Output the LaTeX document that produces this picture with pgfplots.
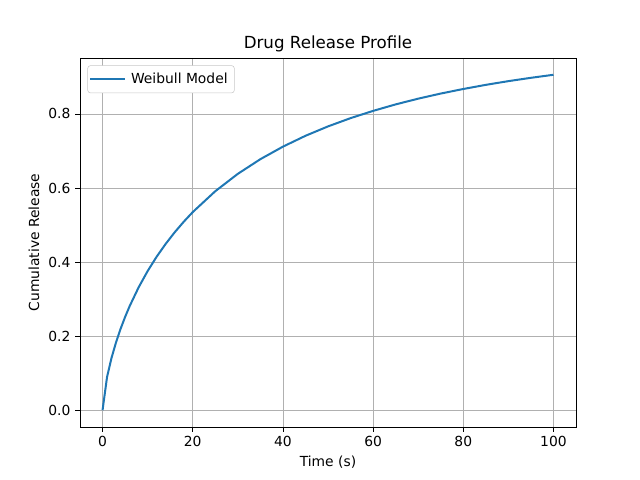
\documentclass[border=0pt]{standalone}
\usepackage{fontspec}
\setmainfont{DejaVu Sans}
\usepackage{pgfplots}
\pgfplotsset{compat=1.18}
\usetikzlibrary{calc}
\definecolor{mplblue}{HTML}{1F77B4}
\definecolor{mplgrid}{HTML}{B0B0B0}

\begin{document}
\begin{tikzpicture}
\begin{axis}[
    name=ax,
    scale only axis,
    width=372pt, height=276.75pt,
    xmin=-5, xmax=105,
    ymin=-0.0453, ymax=0.951,
    xtick={0,20,40,60,80,100},
    ytick={0,0.2,0.4,0.6,0.8},
    yticklabel style={/pgf/number format/.cd,fixed,fixed zerofill,precision=1},
    /pgf/number format/assume math mode=true,
    tick label style={font=\fontsize{10.4}{12}\selectfont},
    label style={font=\fontsize{10.4}{12}\selectfont},
    title style={font=\fontsize{12.5}{14}\selectfont, yshift=-5pt},
    title={Drug Release Profile},
    xlabel={Time (s)},
    ylabel={Cumulative Release},
    grid=major,
    major grid style={mplgrid, line width=0.6pt},
    tick align=outside,
    major tick length=3.65pt,
    tick style={black, line width=0.6pt},
    xtick pos=bottom, ytick pos=left,
    axis line style={line width=0.6pt},
    legend style={font=\fontsize{10.4}{12}\selectfont, draw=mplgrid!70, rounded corners=2pt,
        inner xsep=1pt, inner ysep=3.5pt, at={(0.015,0.98)}, anchor=north west,
        nodes={inner xsep=4pt}},
    legend image code/.code={\draw[mplblue, line width=1.5pt] (0pt,0pt) -- (21pt,0pt);
        \path (0pt,0pt) -- (26pt,0pt);},
    legend cell align=left,
]
\addplot[mplblue, line width=1.5pt] coordinates {
(0,0) (1,0.0897) (2,0.1416) (3,0.1836) (4,0.2197) (5,0.2517) (6,0.2807)
(8,0.3317) (10,0.3757) (12,0.4145) (14,0.4491) (16,0.4804) (18,0.5088)
(20,0.5349) (25,0.5913) (30,0.6382) (35,0.6778) (40,0.7116) (45,0.7409)
(50,0.7663) (55,0.7886) (60,0.8082) (65,0.8257) (70,0.8412) (75,0.8550)
(80,0.8673) (85,0.8785) (90,0.8885) (95,0.8975) (100,0.9057)
};
\addlegendentry{Weibull Model}
\end{axis}
\pgfresetboundingbox
\path ($(ax.south west)+(-60pt,-39.75pt)$) rectangle ($(ax.north east)+(48pt,43.5pt)$);
\end{tikzpicture}
\end{document}
